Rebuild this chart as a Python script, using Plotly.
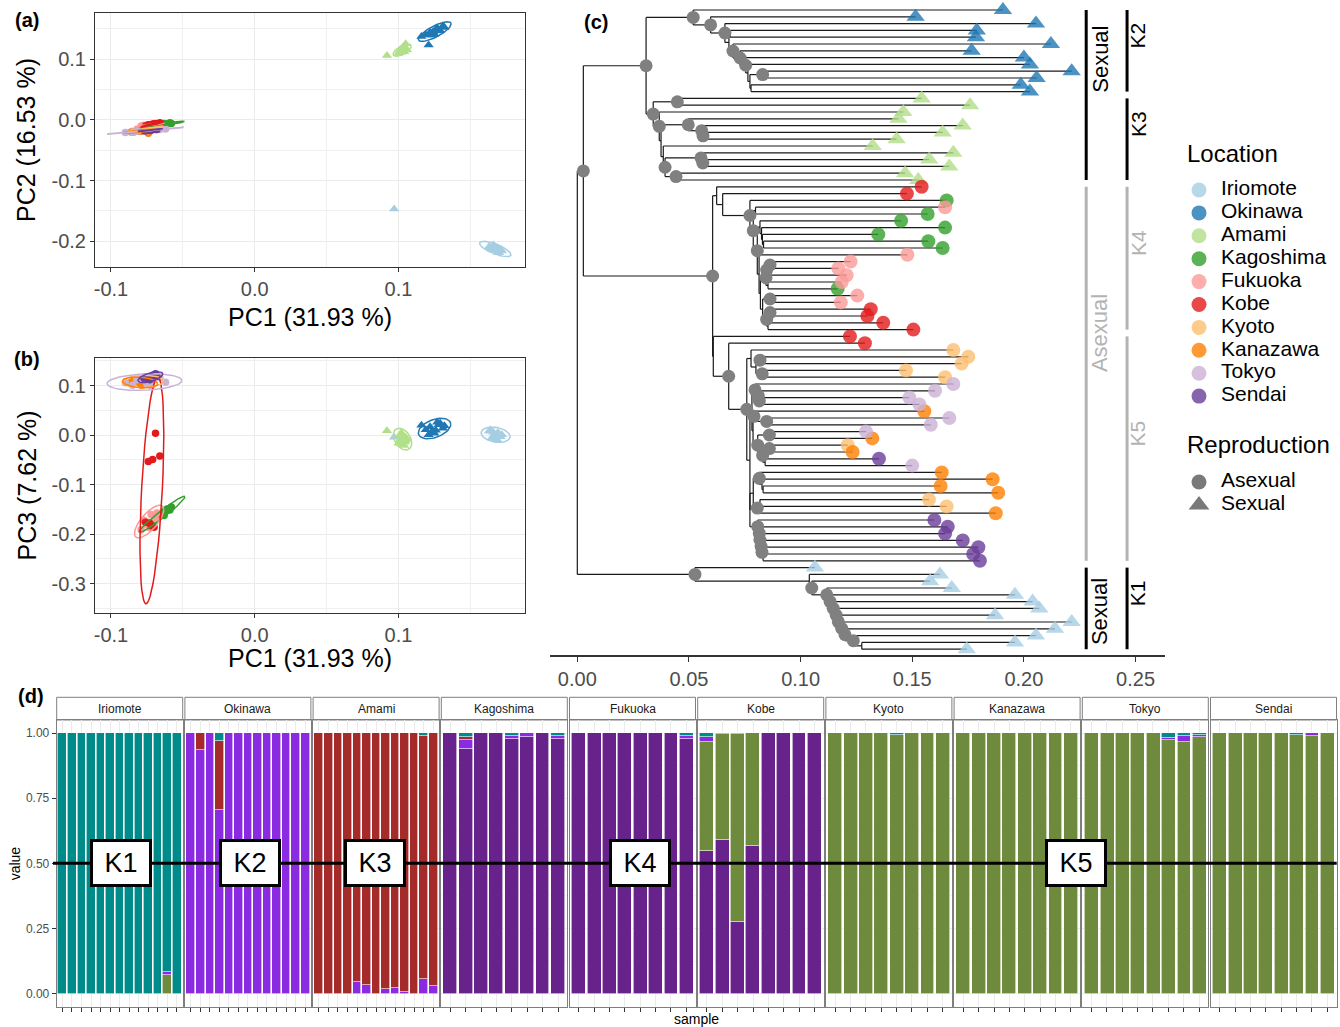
import numpy as np
import plotly.graph_objects as go

W, H = 1340, 1027
FONT = "Liberation Sans, Arial, Helvetica, sans-serif"

# ---------------------------------------------------------------- data
LOCATIONS = ["Iriomote", "Okinawa", "Amami", "Kagoshima", "Fukuoka",
             "Kobe", "Kyoto", "Kanazawa", "Tokyo", "Sendai"]
LOC_COLORS = ["#A6CEE3", "#1F78B4", "#B2DF8A", "#33A02C", "#FB9A99",
              "#E31A1C", "#FDBF6F", "#FF7F00", "#CAB2D6", "#6A3D9A"]
SEXUAL_LOCATIONS = ["Iriomote", "Okinawa", "Amami"]

# PCA scores per sample: (PC1, PC2, PC3)
PCA_IRIOMOTE = [(0.166, -0.206, 0.006), (0.168, -0.214, -0.007), (0.164, -0.211, 0.011),
                (0.171, -0.213, -0.003), (0.167, -0.208, 0.002), (0.169, -0.218, -0.010),
                (0.163, -0.209, 0.008), (0.172, -0.216, 0.001), (0.165, -0.213, -0.005),
                (0.169, -0.210, 0.005), (0.167, -0.215, -0.001), (0.170, -0.219, 0.003),
                (0.097, -0.147, -0.004)]
PCA_OKINAWA = [(0.128, 0.146, 0.021), (0.131, 0.155, 0.014), (0.126, 0.149, 0.010),
               (0.129, 0.147, 0.024), (0.124, 0.145, 0.008), (0.122, 0.144, 0.017),
               (0.125, 0.141, 0.004), (0.132, 0.152, 0.019), (0.127, 0.151, 0.026),
               (0.119, 0.140, 0.011), (0.123, 0.139, 0.007), (0.116, 0.137, 0.020),
               (0.121, 0.123, 0.001)]
PCA_AMAMI = [(0.103, 0.114, -0.005), (0.105, 0.118, -0.012), (0.101, 0.113, -0.001),
             (0.104, 0.112, -0.014), (0.102, 0.116, 0.002), (0.106, 0.115, -0.008),
             (0.100, 0.109, -0.016), (0.103, 0.119, -0.019), (0.105, 0.125, -0.004),
             (0.102, 0.111, 0.005), (0.104, 0.117, -0.021), (0.101, 0.114, -0.009),
             (0.092, 0.106, 0.009)]
PCA_KAGOSHIMA = [(-0.061, -0.007, -0.149), (-0.058, -0.006, -0.145), (-0.063, -0.008, -0.153),
                 (-0.063, -0.006, -0.162), (-0.068, -0.009, -0.166), (-0.059, -0.005, -0.151),
                 (-0.070, -0.009, -0.174), (-0.074, -0.011, -0.181)]
PCA_FUKUOKA = [(-0.075, -0.009, -0.181), (-0.072, -0.008, -0.160), (-0.079, -0.010, -0.191),
               (-0.069, -0.007, -0.169), (-0.077, -0.009, -0.172), (-0.073, -0.008, -0.187),
               (-0.068, -0.007, -0.157), (-0.074, -0.010, -0.176)]
PCA_KOBE = [(-0.069, -0.006, 0.004), (-0.074, -0.008, -0.053), (-0.071, -0.007, -0.049),
            (-0.066, -0.005, -0.042), (-0.073, -0.009, -0.178), (-0.072, -0.008, -0.183),
            (-0.076, -0.010, -0.176), (-0.070, -0.007, -0.186)]
PCA_KYOTO = [(-0.080, -0.016, 0.104), (-0.075, -0.015, 0.113), (-0.083, -0.018, 0.111),
             (-0.072, -0.014, 0.106), (-0.078, -0.017, 0.115), (-0.085, -0.019, 0.107),
             (-0.071, -0.013, 0.110), (-0.077, -0.016, 0.103)]
PCA_KANAZAWA = [(-0.082, -0.019, 0.110), (-0.078, -0.018, 0.103), (-0.086, -0.020, 0.107),
                (-0.074, -0.022, 0.111), (-0.080, -0.019, 0.105), (-0.084, -0.020, 0.112),
                (-0.073, -0.017, 0.106), (-0.079, -0.018, 0.101)]
PCA_TOKYO = [(-0.085, -0.020, 0.101), (-0.078, -0.018, 0.114), (-0.090, -0.021, 0.106),
             (-0.072, -0.017, 0.100), (-0.082, -0.019, 0.112), (-0.066, -0.016, 0.116),
             (-0.062, -0.015, 0.107), (-0.075, -0.018, 0.104)]
PCA_SENDAI = [(-0.074, -0.017, 0.114), (-0.071, -0.016, 0.121), (-0.077, -0.018, 0.115),
              (-0.068, -0.016, 0.119), (-0.073, -0.017, 0.112), (-0.076, -0.018, 0.118),
              (-0.069, -0.016, 0.124), (-0.072, -0.017, 0.116)]
PCA_DATA = [PCA_IRIOMOTE, PCA_OKINAWA, PCA_AMAMI, PCA_KAGOSHIMA, PCA_FUKUOKA,
            PCA_KOBE, PCA_KYOTO, PCA_KANAZAWA, PCA_TOKYO, PCA_SENDAI]
PC_TITLES = ["PC1 (31.93 %)", "PC2 (16.53 %)", "PC3 (7.62 %)"]
PC1_TICKS = [-0.1, 0.0, 0.1]
PC2_TICKS = [-0.2, -0.1, 0.0, 0.1]
PC3_TICKS = [-0.3, -0.2, -0.1, 0.0, 0.1]

# Tree: tips listed top to bottom
TIP_LOCATION = [
    "Okinawa", "Okinawa", "Okinawa", "Okinawa", "Okinawa", "Okinawa", "Okinawa",
    "Okinawa", "Okinawa", "Okinawa", "Okinawa", "Okinawa", "Okinawa",
    "Amami", "Amami", "Amami", "Amami", "Amami", "Amami", "Amami",
    "Amami", "Amami", "Amami", "Amami", "Amami", "Amami",
    "Kobe", "Kobe", "Kagoshima", "Fukuoka", "Kagoshima", "Kagoshima", "Kagoshima",
    "Kagoshima", "Kagoshima", "Kagoshima", "Fukuoka", "Fukuoka", "Fukuoka", "Fukuoka",
    "Fukuoka", "Kagoshima", "Fukuoka", "Fukuoka", "Kobe", "Kobe", "Kobe", "Kobe",
    "Kobe", "Kobe",
    "Kyoto", "Kyoto", "Kyoto", "Kyoto", "Kyoto", "Tokyo", "Tokyo", "Tokyo", "Tokyo",
    "Kanazawa", "Tokyo", "Tokyo", "Tokyo", "Kanazawa", "Kyoto", "Kanazawa", "Sendai",
    "Tokyo", "Kanazawa", "Kanazawa", "Kanazawa", "Kanazawa", "Kyoto", "Kyoto",
    "Kanazawa", "Sendai", "Sendai", "Sendai", "Sendai", "Sendai", "Sendai", "Sendai",
    "Iriomote", "Iriomote", "Iriomote", "Iriomote", "Iriomote", "Iriomote", "Iriomote",
    "Iriomote", "Iriomote", "Iriomote", "Iriomote", "Iriomote", "Iriomote"]
TIP_DEPTH = [
    0.1906, 0.1515, 0.2054, 0.1789, 0.1785, 0.2121, 0.1766, 0.2000, 0.2027, 0.2214,
    0.2057, 0.1986, 0.2027,
    0.1542, 0.1759, 0.1460, 0.1438, 0.1726, 0.1636, 0.1430, 0.1323, 0.1684, 0.1576,
    0.1666, 0.1468, 0.1527,
    0.1542, 0.1476, 0.1654, 0.1647, 0.1569, 0.1450, 0.1647, 0.1348, 0.1572, 0.1636,
    0.1478, 0.1224, 0.1169, 0.1206, 0.1184, 0.1166, 0.1254, 0.1180, 0.1314, 0.1299,
    0.1370, 0.1505, 0.1221, 0.1288,
    0.1684, 0.1751, 0.1721, 0.1472, 0.1647, 0.1684, 0.1602, 0.1487, 0.1532, 0.1554,
    0.1666, 0.1583, 0.1293, 0.1321, 0.1211, 0.1233, 0.1351, 0.1500, 0.1632, 0.1860,
    0.1627, 0.1885, 0.1575, 0.1654, 0.1874, 0.1599, 0.1659, 0.1647, 0.1726, 0.1796,
    0.1773, 0.1803,
    0.1064, 0.1624, 0.1580, 0.1677, 0.1960, 0.2039, 0.2069, 0.1871, 0.2214, 0.2139,
    0.2054, 0.1960, 0.1744]

# clade topologies: (children)depth, '*' = node has a support point
CLADE_K2 = ("(0,(1,(2,((3,4)0.0684,(5,(6,(7,(8,((9,10)0.0830*,(11,12)0.0778)0.0773)"
            "0.0764)0.0754*)0.0729*)0.0697*)0.0679)0.0661*)0.0597*)0.0519*")
CLADE_K3 = ("((13,14)0.0448*,(15,((16,(17,(18,19)0.0563*)0.0557*)0.0497*,(20,((21,(22,23)"
            "0.0562*)0.0554*,(24,25)0.0442*)0.0393*)0.0385)0.0375)0.0367*)0.0340*")
CLADE_K4 = ("(26,(27,(28,((29,30)0.0798,((31,(32,(33,(34,35)0.0834)0.0829)0.0825)0.0818,"
            "(36,((((37,38)0.0863*,39)0.0848*,(40,41)0.0854)0.0845*,((42,43)0.0863*,"
            "((44,45)0.0863*,(46,47)0.0854)0.0848*)0.0830)0.0820)0.0814)0.0806*)0.0788*)"
            "0.0773*)0.0651)0.0624")
CLADE_K5 = ("(48,(49,((50,((51,52)0.0818*,(53,54)0.0828*)0.0800)0.0778,(((55,(56,(57,58)"
            "0.0815*)0.0811*)0.0796*,((59,(60,61)0.0848*)0.0791*,((62,63)0.0860*,((64,65)"
            "0.0860*,(66,67)0.0841)0.0830*)0.0808*)0.0787)0.0782,(((68,(69,(70,71)0.0832)"
            "0.0827)0.0815*,((72,73)0.0818,74)0.0806*)0.0788,(75,(76,(77,(78,(79,(80,81)"
            "0.0832)0.0827*)0.0823*)0.0818*)0.0815*)0.0808*)0.0773)0.0773)0.0759*)0.0678*)"
            "0.0609")
CLADE_K1 = ("(82,(83,(84,(85,(86,(87,(88,(89,(90,(91,(92,(93,94)0.1274)0.1236*)0.1199*)"
            "0.1184*)0.1169*)0.1159*)0.1146*)0.1132*)0.1117*)0.1050*)0.1039)0.0527*")
TREE = f"((({CLADE_K2},{CLADE_K3})0.0308*,({CLADE_K4},{CLADE_K5})0.0606*)0.0027*,{CLADE_K1})0"
TREE_TICKS = [0.00, 0.05, 0.10, 0.15, 0.20, 0.25]

# clade labels (tip ranges)
REPRO_LABELS = ["Sexual", "Asexual", "Sexual"]
REPRO_RANGES = [(0, 25), (26, 81), (82, 94)]
REPRO_COLORS = ["#000000", "#B3B3B3", "#000000"]
K_LABELS = ["K2", "K3", "K4", "K5", "K1"]
K_RANGES = [(0, 12), (13, 25), (26, 47), (48, 81), (82, 94)]
K_COLORS = ["#000000", "#000000", "#B3B3B3", "#B3B3B3", "#000000"]

# ADMIXTURE proportions per sample: [K1, K2, K3, K4, K5]
ADMIX_IRIOMOTE = [[1, 0, 0, 0, 0], [1, 0, 0, 0, 0], [1, 0, 0, 0, 0], [1, 0, 0, 0, 0],
                  [1, 0, 0, 0, 0], [1, 0, 0, 0, 0], [1, 0, 0, 0, 0], [1, 0, 0, 0, 0],
                  [1, 0, 0, 0, 0], [1, 0, 0, 0, 0], [1, 0, 0, 0, 0],
                  [0.917, 0.010, 0, 0, 0.073], [1, 0, 0, 0, 0]]
ADMIX_OKINAWA = [[0, 1, 0, 0, 0], [0, 0.935, 0.065, 0, 0], [0, 1, 0, 0, 0],
                 [0.032, 0.706, 0.262, 0, 0], [0, 1, 0, 0, 0], [0, 1, 0, 0, 0],
                 [0, 1, 0, 0, 0], [0, 1, 0, 0, 0], [0, 1, 0, 0, 0], [0, 1, 0, 0, 0],
                 [0, 1, 0, 0, 0], [0, 1, 0, 0, 0], [0, 1, 0, 0, 0]]
ADMIX_AMAMI = [[0, 0, 1, 0, 0], [0, 0, 1, 0, 0], [0, 0, 1, 0, 0], [0, 0, 1, 0, 0],
               [0, 0.045, 0.955, 0, 0], [0, 0.033, 0.967, 0, 0], [0, 0, 1, 0, 0],
               [0, 0.017, 0.983, 0, 0], [0, 0.023, 0.977, 0, 0], [0, 0.008, 0.992, 0, 0],
               [0, 0, 1, 0, 0], [0.010, 0.058, 0.932, 0, 0], [0, 0.030, 0.970, 0, 0]]
ADMIX_KAGOSHIMA = [[0, 0, 0, 1, 0], [0.016, 0.032, 0.012, 0.940, 0], [0, 0, 0, 1, 0],
                   [0, 0, 0, 1, 0], [0.012, 0.010, 0, 0.978, 0], [0, 0.014, 0, 0.986, 0],
                   [0, 0, 0, 1, 0], [0.013, 0.010, 0, 0.977, 0]]
ADMIX_FUKUOKA = [[0, 0, 0, 1, 0], [0, 0, 0, 1, 0], [0, 0, 0, 1, 0], [0, 0, 0, 1, 0],
                 [0, 0, 0, 1, 0], [0, 0, 0, 1, 0], [0, 0, 0, 1, 0],
                 [0.013, 0.008, 0, 0.979, 0]]
ADMIX_KOBE = [[0.014, 0.020, 0, 0.546, 0.420], [0, 0.004, 0, 0.591, 0.405],
              [0, 0.005, 0, 0.275, 0.720], [0, 0, 0, 0.568, 0.432], [0, 0, 0, 1, 0],
              [0, 0, 0, 1, 0], [0, 0, 0, 1, 0], [0, 0, 0, 1, 0]]
ADMIX_KYOTO = [[0, 0, 0, 0, 1], [0, 0, 0, 0, 1], [0, 0, 0, 0, 1], [0, 0, 0, 0, 1],
               [0.009, 0, 0, 0, 0.991], [0, 0, 0, 0, 1], [0, 0, 0, 0, 1], [0, 0, 0, 0, 1]]
ADMIX_KANAZAWA = [[0, 0, 0, 0, 1], [0, 0, 0, 0, 1], [0, 0, 0, 0, 1], [0, 0, 0, 0, 1],
                  [0, 0, 0, 0, 1], [0, 0, 0, 0, 1], [0, 0, 0, 0, 1], [0, 0, 0, 0, 1]]
ADMIX_TOKYO = [[0, 0, 0, 0, 1], [0, 0, 0, 0, 1], [0, 0, 0, 0, 1], [0, 0, 0, 0, 1],
               [0, 0, 0, 0, 1], [0.018, 0.010, 0, 0, 0.972], [0.013, 0.022, 0, 0, 0.965],
               [0.008, 0.006, 0, 0, 0.986]]
ADMIX_SENDAI = [[0, 0, 0, 0, 1], [0, 0, 0, 0, 1], [0, 0, 0, 0, 1], [0, 0, 0, 0, 1],
                [0, 0, 0, 0, 1], [0.006, 0, 0, 0, 0.994], [0, 0.010, 0, 0, 0.990],
                [0, 0, 0, 0, 1]]
ADMIX_DATA = [ADMIX_IRIOMOTE, ADMIX_OKINAWA, ADMIX_AMAMI, ADMIX_KAGOSHIMA, ADMIX_FUKUOKA,
              ADMIX_KOBE, ADMIX_KYOTO, ADMIX_KANAZAWA, ADMIX_TOKYO, ADMIX_SENDAI]
K_NAMES = ["K1", "K2", "K3", "K4", "K5"]
K_FILL = ["#008B8B", "#8A2BE2", "#A52A2A", "#68228B", "#6E8B3D"]
STACK_ORDER = ["K4", "K5", "K2", "K3", "K1"]          # bottom -> top
ADMIX_TICKS = [0.0, 0.25, 0.50, 0.75, 1.00]
K_BOX_LABELS = ["K1", "K2", "K3", "K4", "K5"]
K_BOX_XPX = [121, 250, 375, 640, 1076]


# ---------------------------------------------------------------- helpers
def fx(p):
    return p / W


def fy(p):
    return 1 - p / H


def cov_trob(X, nu=5, maxit=25, tol=0.01):
    n, p = X.shape
    wt = np.ones(n)
    loc = X.mean(axis=0)
    w = np.sqrt(wt)
    Xc = X - loc
    for _ in range(maxit):
        w0 = w
        Xc = X - loc
        _, d, Vt = np.linalg.svd(np.sqrt(w / w.sum())[:, None] * Xc, full_matrices=False)
        wX = Xc @ Vt.T @ np.diag(1.0 / d)
        Q = (wX ** 2).sum(axis=1)
        w = wt * (nu + p) / (nu + Q)
        loc = (w[:, None] * X).sum(axis=0) / w.sum()
        if np.all(np.abs(w - w0) < tol):
            break
    sw = np.sqrt(w)[:, None] * Xc
    return loc, sw.T @ sw / wt.sum()


def stat_ellipse(x, y, level=0.95, segments=51):
    X = np.column_stack([x, y])
    center, shape = cov_trob(X)
    dfd = len(x) - 1
    qf = (dfd / 2.0) * ((1 - level) ** (-2.0 / dfd) - 1)   # F(2, dfd) quantile
    radius = np.sqrt(2 * qf)
    R = np.linalg.cholesky(shape).T
    ang = np.linspace(0, 2 * np.pi, segments + 1)
    unit = np.column_stack([np.cos(ang), np.sin(ang)])
    e = center + radius * unit @ R
    return e[:, 0], e[:, 1]


def note(x, y, text, size, color="black", angle=0, xref="paper", yref="paper",
         xanchor="center", yanchor="middle", **kw):
    d = dict(x=x, y=y, xref=xref, yref=yref, text=text, showarrow=False,
             textangle=angle, xanchor=xanchor, yanchor=yanchor,
             font=dict(size=size, color=color, family=FONT))
    d.update(kw)
    return d


fig = go.Figure()

# ---------------------------------------------------------------- PCA panels (a), (b)
for pc, (xa, ya) in zip([1, 2], [("x", "y"), ("x2", "y2")]):
    for loc, col, pts in zip(LOCATIONS, LOC_COLORS, PCA_DATA):
        arr = np.array(pts)
        sym = "triangle-up" if loc in SEXUAL_LOCATIONS else "circle"
        fig.add_trace(go.Scatter(
            x=arr[:, 0], y=arr[:, pc], mode="markers", xaxis=xa, yaxis=ya,
            marker=dict(color=col, size=9 if sym == "triangle-up" else 7.5, symbol=sym,
                        line=dict(width=0)),
            showlegend=False, hoverinfo="skip"))
    for loc, col, pts in zip(LOCATIONS, LOC_COLORS, PCA_DATA):
        arr = np.array(pts)
        ex, ey = stat_ellipse(arr[:, 0], arr[:, pc])
        fig.add_trace(go.Scatter(x=ex, y=ey, mode="lines", xaxis=xa, yaxis=ya,
                                 line=dict(color=col, width=1.5),
                                 showlegend=False, hoverinfo="skip"))

# ---------------------------------------------------------------- tree (c)
def parse_tree(s):
    pos = 0

    def read():
        nonlocal pos
        if s[pos] == "(":
            pos += 1
            kids = [read()]
            while s[pos] == ",":
                pos += 1
                kids.append(read())
            pos += 1
            j = pos
            while pos < len(s) and (s[pos].isdigit() or s[pos] == "."):
                pos += 1
            depth = float(s[j:pos])
            pt = pos < len(s) and s[pos] == "*"
            if pt:
                pos += 1
            return {"kids": kids, "x": depth, "pt": pt}
        j = pos
        while s[pos].isdigit():
            pos += 1
        i = int(s[j:pos])
        return {"tip": i, "x": TIP_DEPTH[i], "y": float(i)}

    return read()


def set_y(node):
    if "tip" in node:
        return node["y"]
    ys = [set_y(k) for k in node["kids"]]
    node["y"] = sum(ys) / len(ys)
    return node["y"]


root = parse_tree(TREE)
set_y(root)
lx, ly, nx, ny = [], [], [], []


def collect(node):
    if "tip" in node:
        return
    kids = node["kids"]
    lx.extend([node["x"], node["x"], None])
    ly.extend([min(k["y"] for k in kids), max(k["y"] for k in kids), None])
    for k in kids:
        lx.extend([node["x"], k["x"], None])
        ly.extend([k["y"], k["y"], None])
        collect(k)
    if node["pt"]:
        nx.append(node["x"])
        ny.append(node["y"])


collect(root)
fig.add_trace(go.Scatter(x=lx, y=ly, mode="lines", xaxis="x3", yaxis="y3",
                         line=dict(color="#1A1A1A", width=1.2),
                         showlegend=False, hoverinfo="skip"))
fig.add_trace(go.Scatter(x=nx, y=ny, mode="markers", xaxis="x3", yaxis="y3",
                         marker=dict(color="#808080", size=13, line=dict(width=0)),
                         showlegend=False, hoverinfo="skip"))
for loc, col in zip(LOCATIONS, LOC_COLORS):
    idx = [i for i, l in enumerate(TIP_LOCATION) if l == loc]
    sym = "triangle-up" if loc in SEXUAL_LOCATIONS else "circle"
    fig.add_trace(go.Scatter(
        x=[TIP_DEPTH[i] for i in idx], y=idx, mode="markers", xaxis="x3", yaxis="y3",
        marker=dict(color=col, size=16 if sym == "triangle-up" else 14, symbol=sym,
                    opacity=0.8, line=dict(width=0)),
        showlegend=False, hoverinfo="skip"))

BAR1_X, BAR2_X = 0.2279, 0.2462
TXT1_X, TXT2_X = 0.2342, 0.2510
annotations = []
for lab, (a, b), col in zip(REPRO_LABELS, REPRO_RANGES, REPRO_COLORS):
    fig.add_trace(go.Scatter(x=[BAR1_X, BAR1_X], y=[a, b], mode="lines", xaxis="x3",
                             yaxis="y3", line=dict(color=col, width=3),
                             showlegend=False, hoverinfo="skip"))
    last = (a, b) == REPRO_RANGES[-1]
    annotations.append(note(TXT1_X, (a + b) / 2 + (0.5 if last else 0), lab, 22, col, -90,
                            xref="x3", yref="y3",
                            yanchor="middle" if last else "bottom"))
for lab, (a, b), col in zip(K_LABELS, K_RANGES, K_COLORS):
    fig.add_trace(go.Scatter(x=[BAR2_X, BAR2_X], y=[a, b], mode="lines", xaxis="x3",
                             yaxis="y3", line=dict(color=col, width=3),
                             showlegend=False, hoverinfo="skip"))
    annotations.append(note(TXT2_X, (a + b) / 2, lab, 21, col, -90, xref="x3", yref="y3",
                            yanchor="bottom"))

# ---------------------------------------------------------------- admixture (d)
FACET_X0, FACET_STEP, FACET_W = 56.7, 128.2, 126.0
PANEL_TOP, PANEL_BOT, STRIP_TOP = 720.0, 1006.7, 697.3
shapes = []
layout_axes = {}
for f, (loc, rows) in enumerate(zip(LOCATIONS, ADMIX_DATA)):
    k = 4 + f
    n = len(rows)
    x0 = FACET_X0 + f * FACET_STEP
    x1 = x0 + FACET_W
    arr = np.array(rows, dtype=float)
    for kname in STACK_ORDER:
        ci = K_NAMES.index(kname)
        fig.add_trace(go.Bar(
            x=list(range(n)), y=arr[:, ci], width=0.9, xaxis=f"x{k}", yaxis=f"y{k}",
            marker=dict(color=K_FILL[ci], line=dict(color="white", width=0.6)),
            showlegend=False, hoverinfo="skip"))
    layout_axes[f"xaxis{k}"] = dict(
        domain=[fx(x0), fx(x1)], range=[-0.6, n - 0.4], anchor=f"y{k}",
        tickvals=list(range(n)), showticklabels=False, ticks="outside", ticklen=4,
        tickcolor="#333333", showgrid=True, gridcolor="#EBEBEB", gridwidth=1,
        showline=True, mirror=True, linecolor="#7F7F7F", linewidth=1, zeroline=False)
    layout_axes[f"yaxis{k}"] = dict(
        domain=[fy(PANEL_BOT), fy(PANEL_TOP)], range=[-0.05, 1.05], anchor=f"x{k}",
        tickvals=ADMIX_TICKS, ticktext=[f"{v:.2f}" for v in ADMIX_TICKS],
        showticklabels=(f == 0), ticks="outside" if f == 0 else "", ticklen=4,
        tickcolor="#333333", tickfont=dict(size=12, color="#4D4D4D"),
        showgrid=True, gridcolor="#EBEBEB", gridwidth=1,
        minor=dict(tickmode="linear", tick0=0.125, dtick=0.25, showgrid=True,
                   gridcolor="#F3F3F3", gridwidth=0.5),
        showline=True, mirror=True, linecolor="#7F7F7F", linewidth=1, zeroline=False)
    shapes.append(dict(type="rect", xref="paper", yref="paper", x0=fx(x0), x1=fx(x1),
                       y0=fy(PANEL_TOP), y1=fy(STRIP_TOP), fillcolor="white",
                       line=dict(color="#7F7F7F", width=1), layer="below"))
    annotations.append(note(fx((x0 + x1) / 2), fy((STRIP_TOP + PANEL_TOP) / 2), loc, 12,
                            "#1A1A1A"))

shapes.append(dict(type="line", xref="paper", yref="y4", x0=fx(53), x1=fx(1336.7),
                   y0=0.5, y1=0.5, line=dict(color="black", width=3), layer="above"))
for lab, xp in zip(K_BOX_LABELS, K_BOX_XPX):
    annotations.append(note(fx(xp), 0.5, lab, 27, yref="y4", bgcolor="white",
                            bordercolor="black", borderwidth=3, borderpad=2,
                            width=52, height=38))
annotations.append(note(fx(15), 0.5, "value", 14, angle=-90, yref="y4"))
annotations.append(note(fx(696), fy(1019), "sample", 14))

# ---------------------------------------------------------------- legend
LEG_ROW0, LEG_STEP = 190.0, 22.9
leg_y = [LEG_ROW0 + LEG_STEP * i for i in range(len(LOCATIONS))]
fig.add_trace(go.Scatter(x=[1199] * len(LOCATIONS), y=leg_y, mode="markers",
                         xaxis="x14", yaxis="y14",
                         marker=dict(color=LOC_COLORS, size=15, opacity=0.8,
                                     line=dict(width=0)),
                         showlegend=False, hoverinfo="skip"))
fig.add_trace(go.Scatter(x=[1221] * len(LOCATIONS), y=leg_y, mode="text", text=LOCATIONS,
                         textposition="middle right", xaxis="x14", yaxis="y14",
                         textfont=dict(size=21, color="black", family=FONT),
                         showlegend=False, hoverinfo="skip"))
REPRO_NAMES = ["Asexual", "Sexual"]
rep_y = [482.0, 505.0]
fig.add_trace(go.Scatter(x=[1199, 1199], y=rep_y, mode="markers", xaxis="x14", yaxis="y14",
                         marker=dict(color="#404040", size=[15, 18],
                                     symbol=["circle", "triangle-up"], line=dict(width=0)),
                         showlegend=False, hoverinfo="skip"))
fig.add_trace(go.Scatter(x=[1221, 1221], y=rep_y, mode="text", text=REPRO_NAMES,
                         textposition="middle right", xaxis="x14", yaxis="y14",
                         textfont=dict(size=21, color="black", family=FONT),
                         showlegend=False, hoverinfo="skip"))
fig.add_trace(go.Scatter(x=[1187, 1187], y=[156, 447], mode="text",
                         text=["Location", "Reproduction"], textposition="middle right",
                         xaxis="x14", yaxis="y14",
                         textfont=dict(size=24, color="black", family=FONT),
                         showlegend=False, hoverinfo="skip"))

# ---------------------------------------------------------------- axes (a), (b), (c)
def pca_x(anchor):
    return dict(domain=[fx(95), fx(524.5)], range=[-0.1111, 0.1877], anchor=anchor,
                tickvals=PC1_TICKS, ticktext=[f"{v:.1f}" for v in PC1_TICKS],
                ticks="outside", ticklen=4, tickcolor="#333333",
                tickfont=dict(size=20, color="#4D4D4D"),
                showgrid=True, gridcolor="#EBEBEB", gridwidth=1.3,
                minor=dict(tickmode="linear", tick0=-0.05, dtick=0.1, showgrid=True,
                           gridcolor="#F0F0F0", gridwidth=0.7),
                showline=True, mirror=True, linecolor="#333333", linewidth=1,
                zeroline=False)


def pca_y(anchor, dom, rng, ticks, tick0):
    return dict(domain=dom, range=rng, anchor=anchor,
                tickvals=ticks, ticktext=[f"{v:.1f}" for v in ticks],
                ticks="outside", ticklen=4, tickcolor="#333333",
                tickfont=dict(size=20, color="#4D4D4D"),
                showgrid=True, gridcolor="#EBEBEB", gridwidth=1.3,
                minor=dict(tickmode="linear", tick0=tick0, dtick=0.1, showgrid=True,
                           gridcolor="#F0F0F0", gridwidth=0.7),
                showline=True, mirror=True, linecolor="#333333", linewidth=1,
                zeroline=False)


layout_axes["xaxis"] = pca_x("y")
layout_axes["yaxis"] = pca_y("x", [fy(266.7), fy(12.7)], [-0.2418, 0.1763], PC2_TICKS, -0.15)
layout_axes["xaxis2"] = pca_x("y2")
layout_axes["yaxis2"] = pca_y("x2", [fy(612.7), fy(358.3)], [-0.3586, 0.1554], PC3_TICKS, -0.25)
layout_axes["xaxis3"] = dict(domain=[fx(550), fx(1165)], range=[-0.01223, 0.26319],
                             anchor="y3", tickvals=TREE_TICKS,
                             ticktext=[f"{v:.2f}" for v in TREE_TICKS], ticks="outside",
                             ticklen=5, tickcolor="#333333",
                             tickfont=dict(size=20, color="#4D4D4D"), showgrid=False,
                             showline=True, linecolor="#333333", linewidth=1.5,
                             zeroline=False)
layout_axes["yaxis3"] = dict(domain=[fy(655), 1.0], range=[94.85, -1.47], anchor="x3",
                             visible=False)
layout_axes["xaxis14"] = dict(domain=[fx(1180), 1.0], range=[1180, 1340], anchor="y14",
                              visible=False)
layout_axes["yaxis14"] = dict(domain=[fy(530), fy(130)], range=[530, 130], anchor="x14",
                              visible=False)

annotations.append(note(fx(310), fy(317), PC_TITLES[0], 25))
annotations.append(note(fx(310), fy(658), PC_TITLES[0], 25))
annotations.append(note(fx(26), fy(140), PC_TITLES[1], 25, angle=-90))
annotations.append(note(fx(26), fy(485.5), PC_TITLES[2], 25, angle=-90))
for txt, xp, yp in [("(a)", 27, 20), ("(b)", 27, 359), ("(c)", 596, 22), ("(d)", 31, 696)]:
    annotations.append(note(fx(xp), fy(yp), f"<b>{txt}</b>", 20))

fig.update_layout(
    width=W, height=H, margin=dict(l=0, r=0, t=0, b=0),
    paper_bgcolor="white", plot_bgcolor="white", barmode="stack", bargap=0,
    font=dict(family=FONT), showlegend=False,
    annotations=annotations, shapes=shapes, **layout_axes)

fig.write_html("out.html", config={"displayModeBar": False},
               post_script="document.body.style.margin='0px';"
                           "document.body.style.overflow='hidden';")
